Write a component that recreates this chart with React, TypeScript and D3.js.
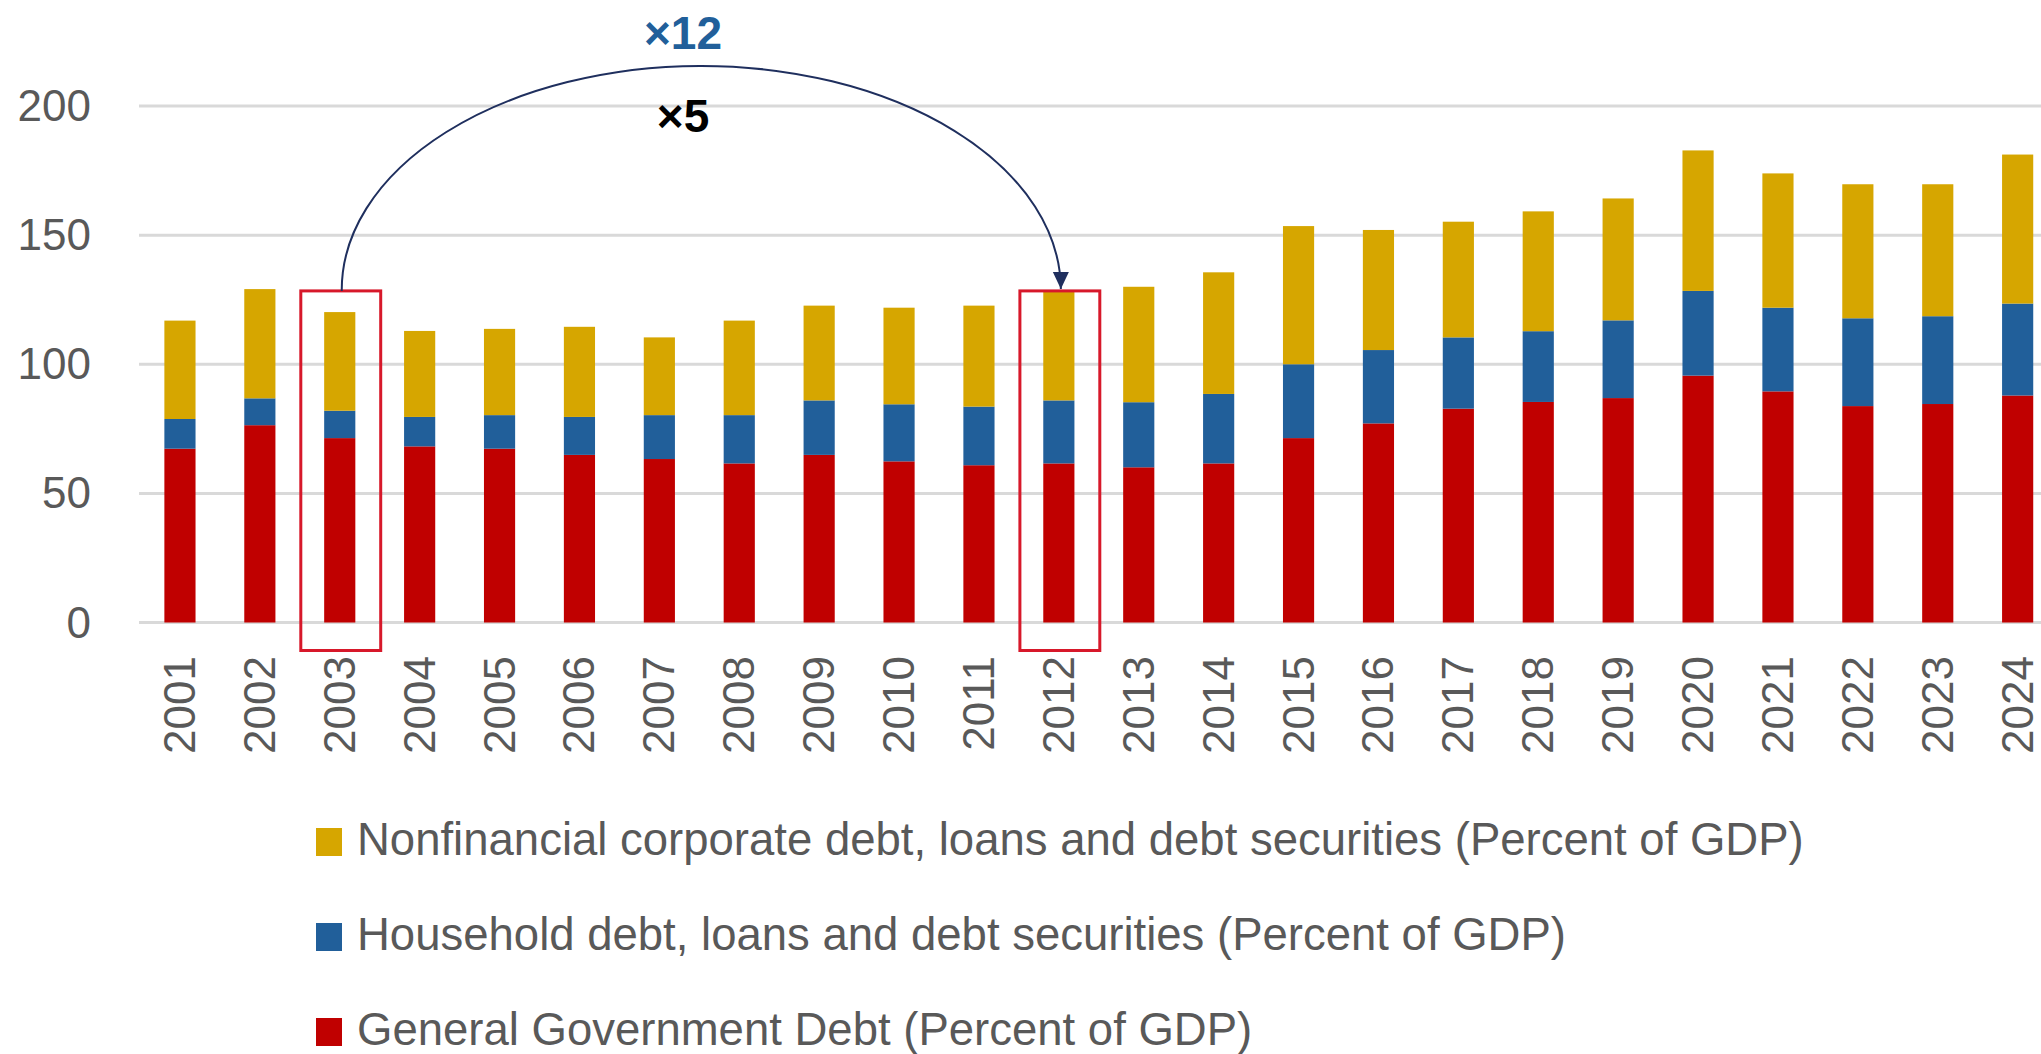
import * as d3 from "d3";

const years = [
  "2001", "2002", "2003", "2004", "2005", "2006", "2007", "2008", "2009", "2010", "2011", "2012",
  "2013", "2014", "2015", "2016", "2017", "2018", "2019", "2020", "2021", "2022", "2023", "2024",
];
const government = [
  67.3, 76.4, 71.4, 68.2, 67.3, 64.9, 63.3, 61.6, 64.9, 62.4, 60.9, 61.6,
  60.1, 61.6, 71.4, 77.1, 82.8, 85.4, 86.9, 95.6, 89.5, 83.8, 84.6, 87.9,
];
const household = [
  11.5, 10.4, 10.6, 11.4, 13.0, 14.7, 17.0, 18.7, 21.1, 22.1, 22.7, 24.4,
  25.2, 26.9, 28.6, 28.4, 27.6, 27.4, 30.1, 32.8, 32.4, 34.0, 34.0, 35.6,
];
const corporate = [
  38.1, 42.3, 38.2, 33.3, 33.4, 34.9, 30.1, 36.6, 36.7, 37.4, 39.1, 42.1,
  44.7, 47.1, 53.5, 46.5, 44.8, 46.4, 47.2, 54.4, 52.0, 51.9, 51.1, 57.7,
];
const yTicks = [0, 50, 100, 150, 200];
const seriesKeys = ["government", "household", "corporate"];
const legendItems = [
  { key: "corporate", label: "Nonfinancial corporate debt, loans and debt securities (Percent of GDP)" },
  { key: "household", label: "Household debt, loans and debt securities (Percent of GDP)" },
  { key: "government", label: "General Government Debt (Percent of GDP)" },
];
const highlighted = ["2003", "2012"];

const colors: Record<string, string> = {
  government: "#C00000",
  household: "#215F9A",
  corporate: "#D6A600",
};

const W = 2041;
const H = 1054;
const font = "'Liberation Sans', Arial, sans-serif";

export default function App() {
  const rows = years.map((year, i) => ({
    year,
    government: government[i],
    household: household[i],
    corporate: corporate[i],
  }));
  const stacked = d3.stack<any>().keys(seriesKeys)(rows);

  // band step ~79.9px, first bar centred near x=180
  const x = d3.scaleBand<string>().domain(years).range([140, 2057.6]).paddingInner(0.61).paddingOuter(0.305);
  const y = d3.scaleLinear().domain([0, 200]).range([622.5, 106]);
  const step = x.step();
  const cx = (yr: string) => (x(yr) as number) + x.bandwidth() / 2;

  const boxTop = y(128.4);
  const boxBottom = y(0) + 28;
  const startX = cx(highlighted[0]) + 2;
  const endX = cx(highlighted[1]) + 2;
  const tipY = boxTop - 2;
  const arcPath = `M${startX},${boxTop} A${(endX - startX) / 2},224 0 0 1 ${endX},${tipY}`;

  return (
    <svg width={W} height={H} style={{ position: "absolute", left: 0, top: 0, display: "block" }}>
      <rect width={W} height={H} fill="#fff" />
      {yTicks.map((t) => (
        <g key={t}>
          <line x1={139} x2={W} y1={y(t)} y2={y(t)} stroke="#d9d9d9" strokeWidth={3} />
          <text x={91} y={y(t) + 15} textAnchor="end" fontFamily={font} fontSize={44} fill="#595959">
            {t}
          </text>
        </g>
      ))}
      {stacked.map((s) => (
        <g key={s.key} fill={colors[s.key]}>
          {s.map((d, i) => (
            <rect
              key={i}
              x={x(years[i])}
              width={x.bandwidth()}
              y={y(d[1])}
              height={y(d[0]) - y(d[1])}
            />
          ))}
        </g>
      ))}
      {years.map((yr) => (
        <text
          key={yr}
          transform={`translate(${cx(yr) + 15},656) rotate(-90)`}
          textAnchor="end"
          fontFamily={font}
          fontSize={44}
          fill="#595959"
        >
          {yr}
        </text>
      ))}
      {highlighted.map((yr) => (
        <rect
          key={yr}
          x={cx(yr) - step / 2 + 1}
          y={boxTop}
          width={step}
          height={boxBottom - boxTop}
          fill="none"
          stroke="#D7182A"
          strokeWidth={3}
        />
      ))}
      <path d={arcPath} fill="none" stroke="#1F2F5E" strokeWidth={2} />
      <path
        d={`M${endX - 8},${tipY - 17} L${endX + 8},${tipY - 17} L${endX},${tipY} Z`}
        fill="#1F2F5E"
      />
      <text x={683} y={49} textAnchor="middle" fontFamily={font} fontWeight="bold" fontSize={46} fill="#215F9A">
        ×12
      </text>
      <text x={683} y={132} textAnchor="middle" fontFamily={font} fontWeight="bold" fontSize={46} fill="#000">
        ×5
      </text>
      {legendItems.map((item, i) => (
        <g key={item.key} transform={`translate(316,${855 + i * 95})`}>
          <rect x={0} y={-27} width={26} height={28} fill={colors[item.key]} />
          <text x={41} y={0} fontFamily={font} fontSize={45.5} fill="#595959">
            {item.label}
          </text>
        </g>
      ))}
    </svg>
  );
}
